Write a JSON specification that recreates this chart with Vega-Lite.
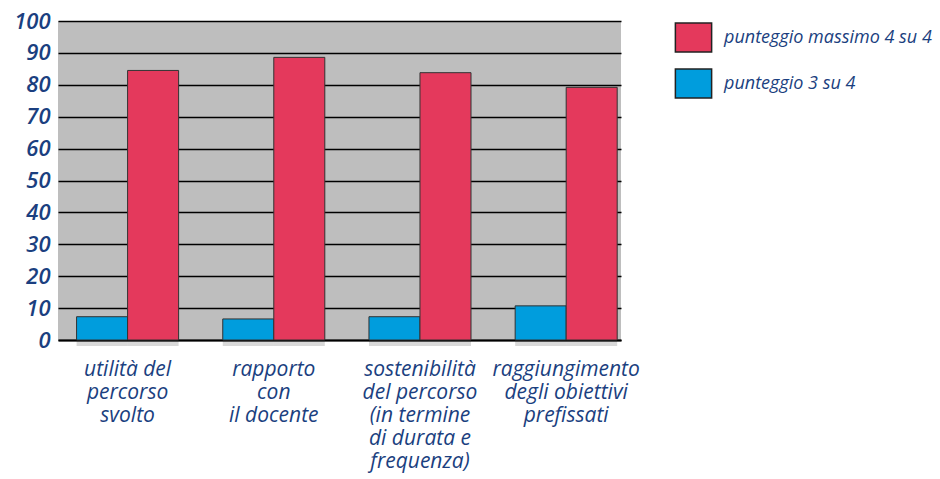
{
  "$schema": "https://vega.github.io/schema/vega-lite/v6.json",
  "width": 563,
  "height": 319,
  "autosize": {"type": "none"},
  "padding": {"left": 58, "top": 21, "right": 319, "bottom": 139},
  "background": "white",
  "config": {"view": {"fill": "#bebebe", "stroke": null}},
  "data": {
    "values": [
      {"aspetto": "utilità del|percorso|svolto", "punteggio": "punteggio 3 su 4", "valore": 7.3},
      {"aspetto": "utilità del|percorso|svolto", "punteggio": "punteggio massimo 4 su 4", "valore": 84.5},
      {"aspetto": "rapporto|con|il docente", "punteggio": "punteggio 3 su 4", "valore": 6.6},
      {"aspetto": "rapporto|con|il docente", "punteggio": "punteggio massimo 4 su 4", "valore": 88.6},
      {"aspetto": "sostenibilità|del percorso|(in termine|di durata e|frequenza)", "punteggio": "punteggio 3 su 4", "valore": 7.3},
      {"aspetto": "sostenibilità|del percorso|(in termine|di durata e|frequenza)", "punteggio": "punteggio massimo 4 su 4", "valore": 83.8},
      {"aspetto": "raggiungimento|degli obiettivi|prefissati", "punteggio": "punteggio 3 su 4", "valore": 10.7},
      {"aspetto": "raggiungimento|degli obiettivi|prefissati", "punteggio": "punteggio massimo 4 su 4", "valore": 79.2}
    ]
  },
  "encoding": {
    "x": {
      "field": "aspetto",
      "type": "nominal",
      "sort": null,
      "scale": {"paddingInner": 0.302, "paddingOuter": 0.0765, "align": 0.83},
      "axis": {
        "title": null,
        "labelExpr": "split(datum.label, '|')",
        "labelAngle": 0,
        "labelFont": "Open Sans",
        "labelFontStyle": "italic",
        "labelFontSize": 21,
        "labelColor": "#1b3f80",
        "labelLineHeight": 23,
        "labelPadding": 18,
        "labelLimit": 0,
        "domain": true,
        "domainColor": "#000000",
        "domainWidth": 2,
        "ticks": false,
        "grid": false
      }
    },
    "xOffset": {
      "field": "punteggio",
      "type": "nominal",
      "scale": {"domain": ["punteggio 3 su 4", "punteggio massimo 4 su 4"], "paddingInner": 0, "paddingOuter": 0}
    },
    "y": {
      "field": "valore",
      "type": "quantitative",
      "scale": {"domain": [0, 100], "nice": false},
      "axis": {
        "title": null,
        "values": [0, 10, 20, 30, 40, 50, 60, 70, 80, 90, 100],
        "grid": true,
        "gridColor": "#000000",
        "gridWidth": 1.5,
        "domain": false,
        "ticks": false,
        "labelFont": "Open Sans",
        "labelFontStyle": "italic",
        "labelFontWeight": 600,
        "labelFontSize": 22,
        "labelColor": "#1b3f80",
        "labelPadding": 8
      }
    }
  },
  "layer": [
    {
      "mark": {"type": "bar", "color": "#000000", "opacity": 0.15, "xOffset": 6, "yOffset": 6}
    },
    {
      "mark": {"type": "bar", "stroke": "#333333", "strokeWidth": 1},
      "encoding": {
        "color": {
          "field": "punteggio",
          "type": "nominal",
          "scale": {"domain": ["punteggio massimo 4 su 4", "punteggio 3 su 4"], "range": ["#e4395c", "#009ddd"]},
          "legend": {
            "title": null,
            "orient": "none",
            "legendX": 620,
            "legendY": 1,
            "symbolType": "M-1.25,-1H1.25V1H-1.25Z",
            "symbolSize": 841,
            "symbolStrokeColor": "#222222",
            "symbolStrokeWidth": 1.5,
            "symbolOpacity": 1,
            "labelFont": "Open Sans",
            "labelFontStyle": "italic",
            "labelFontSize": 18,
            "labelColor": "#1b3f80",
            "labelOffset": 15,
            "labelLimit": 0,
            "rowPadding": 11
          }
        }
      }
    }
  ]
}
